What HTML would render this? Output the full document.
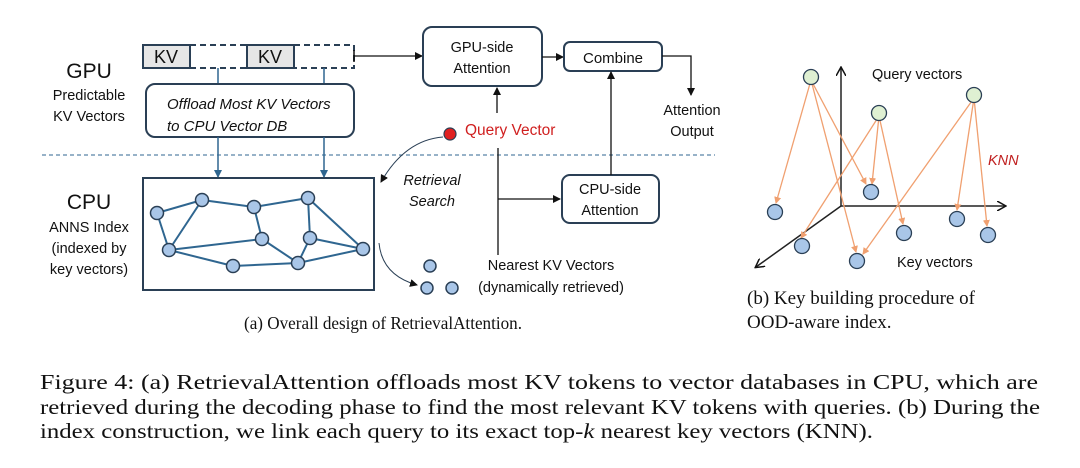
<!DOCTYPE html>
<html><head><meta charset="utf-8"><style>
html,body{margin:0;padding:0;background:#fff;}
svg{display:block;}
.s{font-family:"Liberation Sans",sans-serif;fill:#111;}
.t{font-family:"Liberation Serif",serif;fill:#111;}
</style></head><body>
<svg width="1080" height="468" viewBox="0 0 1080 468" xmlns="http://www.w3.org/2000/svg">
<defs>
<marker id="ab" markerWidth="8" markerHeight="8" refX="7" refY="4" orient="auto" markerUnits="userSpaceOnUse"><path d="M0,0 L8,4 L0,8 Z" fill="#111"/></marker>
<marker id="abl" markerWidth="8" markerHeight="8" refX="7" refY="4" orient="auto" markerUnits="userSpaceOnUse"><path d="M0,0 L8,4 L0,8 Z" fill="#2f6690"/></marker>
<marker id="ao" markerWidth="7" markerHeight="7" refX="6" refY="3.5" orient="auto" markerUnits="userSpaceOnUse"><path d="M0,0 L7,3.5 L0,7 Z" fill="#f0a070"/></marker>
<marker id="av" markerWidth="10" markerHeight="10" refX="8" refY="5" orient="auto" markerUnits="userSpaceOnUse"><path d="M0,0 L9,5 L0,10" fill="none" stroke="#111" stroke-width="1.5"/></marker>
</defs>

<text class="s" x="89" y="78" font-size="21" text-anchor="middle">GPU</text>
<text class="s" x="89" y="100" font-size="14.5" text-anchor="middle">Predictable</text>
<text class="s" x="89" y="121" font-size="14.5" text-anchor="middle">KV Vectors</text>
<text class="s" x="89" y="209" font-size="21" text-anchor="middle">CPU</text>
<text class="s" x="89" y="232" font-size="14.5" text-anchor="middle">ANNS Index</text>
<text class="s" x="89" y="253" font-size="14.5" text-anchor="middle">(indexed by</text>
<text class="s" x="89" y="274" font-size="14.5" text-anchor="middle">key vectors)</text>

<rect x="143" y="45" width="47" height="23" fill="#e6e6e6" stroke="#2a3f55" stroke-width="2"/>
<rect x="247" y="45" width="47" height="23" fill="#e6e6e6" stroke="#2a3f55" stroke-width="2"/>
<text class="s" x="166" y="63" font-size="18" text-anchor="middle">KV</text>
<text class="s" x="270" y="63" font-size="18" text-anchor="middle">KV</text>
<path d="M190,45 H247 M190,68 H247 M294,45 H354 V68 H294" fill="none" stroke="#2a3f55" stroke-width="2" stroke-dasharray="6,4"/>
<line x1="354" y1="50" x2="354" y2="62" stroke="#111" stroke-width="1.5"/>
<line x1="354" y1="56" x2="422" y2="56" stroke="#111" stroke-width="1.3" marker-end="url(#ab)"/>

<line x1="218" y1="68" x2="218" y2="84" stroke="#2f6690" stroke-width="1.5"/>
<line x1="324" y1="68" x2="324" y2="84" stroke="#2f6690" stroke-width="1.5"/>
<rect x="146" y="84" width="208" height="53" rx="9" fill="#fff" stroke="#2a3f55" stroke-width="2"/>
<text class="s" x="167" y="109" font-size="15" font-style="italic">Offload Most KV Vectors</text>
<text class="s" x="167" y="131" font-size="15" font-style="italic">to CPU Vector DB</text>
<line x1="218" y1="137" x2="218" y2="177" stroke="#2f6690" stroke-width="1.5" marker-end="url(#abl)"/>
<line x1="324" y1="137" x2="324" y2="177" stroke="#2f6690" stroke-width="1.5" marker-end="url(#abl)"/>

<line x1="42" y1="155" x2="715" y2="155" stroke="#2f6690" stroke-width="1" stroke-dasharray="4,3"/>

<rect x="143" y="178" width="231" height="112" fill="#fff" stroke="#2a3f55" stroke-width="2"/>
<g stroke="#2f6690" stroke-width="2">
<line x1="157" y1="213" x2="202" y2="200"/><line x1="202" y1="200" x2="254" y2="207"/>
<line x1="254" y1="207" x2="308" y2="198"/><line x1="157" y1="213" x2="169" y2="250"/>
<line x1="202" y1="200" x2="169" y2="250"/><line x1="254" y1="207" x2="262" y2="239"/>
<line x1="308" y1="198" x2="310" y2="238"/><line x1="308" y1="198" x2="363" y2="249"/>
<line x1="169" y1="250" x2="262" y2="239"/><line x1="169" y1="250" x2="233" y2="266"/>
<line x1="233" y1="266" x2="298" y2="263"/><line x1="262" y1="239" x2="298" y2="263"/>
<line x1="310" y1="238" x2="298" y2="263"/><line x1="310" y1="238" x2="363" y2="249"/>
<line x1="298" y1="263" x2="363" y2="249"/>
</g>
<g fill="#a9c6e8" stroke="#2a3f55" stroke-width="1.5">
<circle cx="157" cy="213" r="6.5"/><circle cx="202" cy="200" r="6.5"/><circle cx="254" cy="207" r="6.5"/>
<circle cx="308" cy="198" r="6.5"/><circle cx="169" cy="250" r="6.5"/><circle cx="262" cy="239" r="6.5"/>
<circle cx="310" cy="238" r="6.5"/><circle cx="363" cy="249" r="6.5"/><circle cx="233" cy="266" r="6.5"/>
<circle cx="298" cy="263" r="6.5"/>
</g>

<rect x="423" y="27" width="119" height="59" rx="9" fill="#fff" stroke="#2a3f55" stroke-width="2"/>
<text class="s" x="482" y="52" font-size="14.5" text-anchor="middle">GPU-side</text>
<text class="s" x="482" y="73" font-size="14.5" text-anchor="middle">Attention</text>
<line x1="542" y1="57" x2="563" y2="57" stroke="#111" stroke-width="1.3" marker-end="url(#ab)"/>
<rect x="564" y="42" width="98" height="29" rx="6" fill="#fff" stroke="#2a3f55" stroke-width="2"/>
<text class="s" x="613" y="63" font-size="15" text-anchor="middle">Combine</text>
<polyline points="662,56 691,56 691,95" fill="none" stroke="#111" stroke-width="1.3" marker-end="url(#ab)"/>
<text class="s" x="692" y="115" font-size="14.5" text-anchor="middle">Attention</text>
<text class="s" x="692" y="136" font-size="14.5" text-anchor="middle">Output</text>

<circle cx="450" cy="134" r="6" fill="#e02020" stroke="#2a3f55" stroke-width="1.2"/>
<text class="s" x="465" y="135" font-size="15.5" style="fill:#d02020">Query Vector</text>
<line x1="497" y1="113" x2="497" y2="88" stroke="#111" stroke-width="1.3" marker-end="url(#ab)"/>
<path d="M443,137 Q405,140 381,182" fill="none" stroke="#2a3f55" stroke-width="1" marker-end="url(#ab)"/>
<text class="s" x="432" y="185" font-size="14.5" font-style="italic" text-anchor="middle">Retrieval</text>
<text class="s" x="432" y="206" font-size="14.5" font-style="italic" text-anchor="middle">Search</text>
<line x1="498" y1="148" x2="498" y2="255" stroke="#111" stroke-width="1.3"/>
<line x1="498" y1="199" x2="560" y2="199" stroke="#111" stroke-width="1.3" marker-end="url(#ab)"/>
<rect x="562" y="175" width="97" height="48" rx="8" fill="#fff" stroke="#2a3f55" stroke-width="2"/>
<text class="s" x="610" y="194" font-size="14.5" text-anchor="middle">CPU-side</text>
<text class="s" x="610" y="215" font-size="14.5" text-anchor="middle">Attention</text>
<line x1="611" y1="175" x2="611" y2="72" stroke="#111" stroke-width="1.3" marker-end="url(#ab)"/>
<text class="s" x="551" y="270" font-size="14.5" text-anchor="middle">Nearest KV Vectors</text>
<text class="s" x="551" y="292" font-size="14.5" text-anchor="middle">(dynamically retrieved)</text>
<path d="M379,243 Q382,275 417,285" fill="none" stroke="#2a3f55" stroke-width="1" marker-end="url(#ab)"/>
<g fill="#a9c6e8" stroke="#2a3f55" stroke-width="1.5">
<circle cx="430" cy="266" r="6"/><circle cx="427" cy="288" r="6"/><circle cx="452" cy="288" r="6"/>
</g>
<text class="t" x="383" y="329" font-size="18" text-anchor="middle" textLength="278" lengthAdjust="spacingAndGlyphs">(a) Overall design of RetrievalAttention.</text>

<line x1="841" y1="206" x2="841" y2="68" stroke="#222" stroke-width="1.5" marker-end="url(#av)"/>
<line x1="841" y1="206" x2="1005" y2="206" stroke="#222" stroke-width="1.5" marker-end="url(#av)"/>
<line x1="841" y1="206" x2="756" y2="267" stroke="#222" stroke-width="1.5" marker-end="url(#av)"/>
<g stroke="#f0a070" stroke-width="1.3" marker-end="url(#ao)">
<line x1="811" y1="80" x2="776" y2="203"/>
<line x1="811" y1="80" x2="866" y2="184"/>
<line x1="811" y1="80" x2="856" y2="252"/>
<line x1="879" y1="116" x2="872" y2="184"/>
<line x1="879" y1="116" x2="903" y2="224"/>
<line x1="879" y1="116" x2="801" y2="238"/>
<line x1="974" y1="98" x2="957" y2="210"/>
<line x1="974" y1="98" x2="987" y2="226"/>
<line x1="974" y1="98" x2="863" y2="254"/>
</g>
<g fill="#dff0d2" stroke="#2a3f55" stroke-width="1.3">
<circle cx="811" cy="77" r="7.5"/><circle cx="879" cy="113" r="7.5"/><circle cx="974" cy="95" r="7.5"/>
</g>
<g fill="#a9c6e8" stroke="#2a3f55" stroke-width="1.3">
<circle cx="871" cy="192" r="7.5"/><circle cx="775" cy="212" r="7.5"/><circle cx="802" cy="246" r="7.5"/>
<circle cx="857" cy="261" r="7.5"/><circle cx="904" cy="233" r="7.5"/><circle cx="957" cy="219" r="7.5"/>
<circle cx="988" cy="235" r="7.5"/>
</g>
<text class="s" x="872" y="79" font-size="14.5">Query vectors</text>
<text class="s" x="988" y="165" font-size="14.5" font-style="italic" style="fill:#c02020">KNN</text>
<text class="s" x="897" y="267" font-size="14.5">Key vectors</text>
<text class="t" x="747" y="304" font-size="19">(b) Key building procedure of</text>
<text class="t" x="747" y="328" font-size="19">OOD-aware index.</text>

<text class="t" x="40" y="389" font-size="21" textLength="998" lengthAdjust="spacingAndGlyphs">Figure 4: (a) RetrievalAttention offloads most KV tokens to vector databases in CPU, which are</text>
<text class="t" x="40" y="414" font-size="21" textLength="1000" lengthAdjust="spacingAndGlyphs">retrieved during the decoding phase to find the most relevant KV tokens with queries. (b) During the</text>
<text class="t" x="40" y="438" font-size="21" textLength="833" lengthAdjust="spacingAndGlyphs">index construction, we link each query to its exact top-<tspan font-style="italic">k</tspan> nearest key vectors (KNN).</text>
</svg>
</body></html>
